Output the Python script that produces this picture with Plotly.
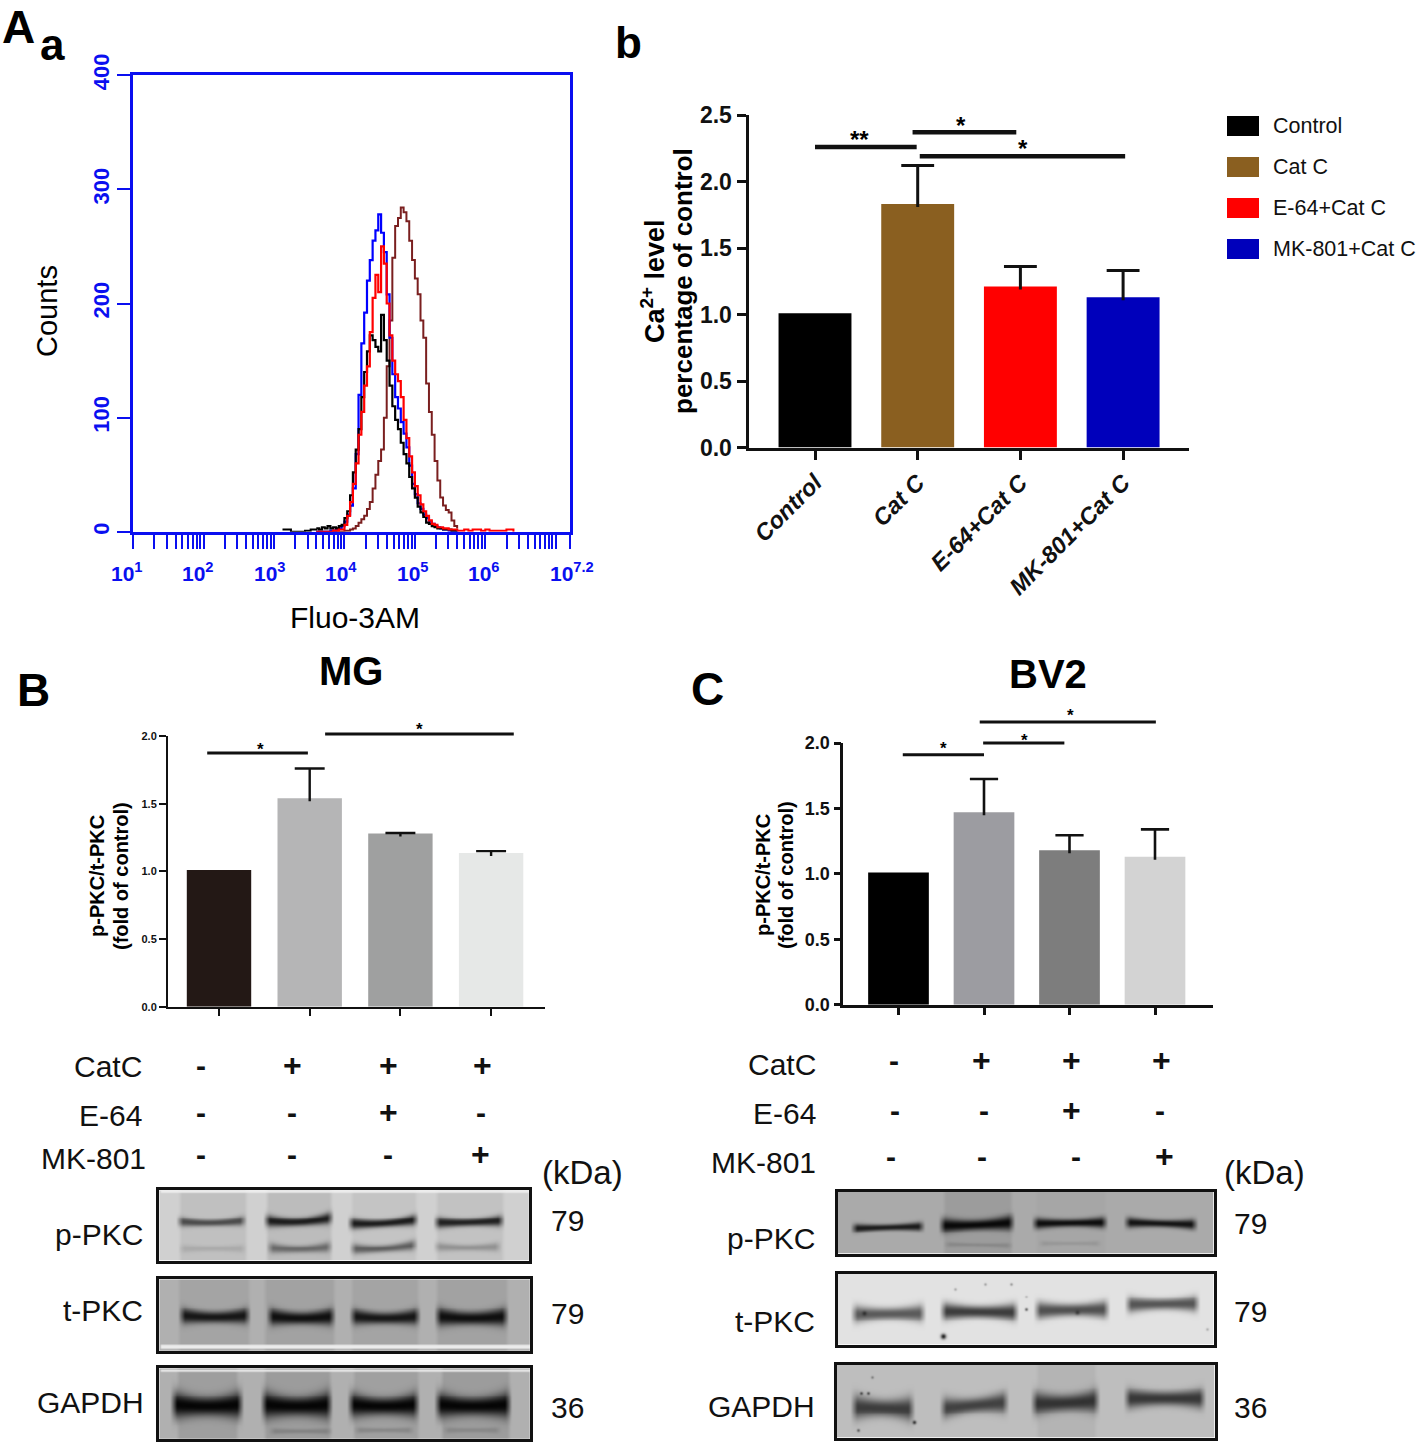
import numpy as np
import plotly.graph_objects as go

W, H = 1418, 1444
FONT = "Liberation Sans"

# ---------- data ----------
LOG_BINS = [3.60, 3.64, 3.68, 3.72, 3.76, 3.80, 3.84, 3.88, 3.92, 3.96,
            4.00, 4.04, 4.08, 4.12, 4.16, 4.20, 4.24, 4.28, 4.32, 4.36,
            4.40, 4.44, 4.48, 4.52, 4.56, 4.60, 4.64, 4.68, 4.72, 4.76,
            4.80, 4.84, 4.88, 4.92, 4.96, 5.00, 5.04, 5.08, 5.12, 5.16,
            5.20, 5.24, 5.28, 5.32, 5.36, 5.40, 5.44, 5.48, 5.52, 5.56, 5.60]
HIST_BLUE = [0, 0, 0, 0, 0, 1, 1, 2, 3, 5, 9, 15, 23, 38, 68, 120, 165, 192, 220, 238,
             255, 264, 278, 262, 245, 208, 170, 138, 118, 108, 96, 86, 74, 58, 42,
             33, 25, 20, 15, 12, 9, 7, 5, 4, 3, 2, 2, 1, 1, 1, 0]
HIST_BLACK = [3, 2, 4, 3, 5, 3, 4, 3, 5, 6, 12, 18, 32, 52, 72, 90, 118, 140, 158, 172,
              168, 162, 158, 190, 168, 150, 128, 110, 98, 90, 78, 68, 60, 48, 38,
              30, 22, 17, 13, 8, 7, 5, 4, 3, 3, 2, 2, 2, 1, 1, 1]
HIST_RED = [0, 0, 0, 0, 0, 0, 1, 1, 2, 2, 6, 14, 26, 42, 60, 85, 105, 128, 145, 175,
            205, 225, 210, 250, 235, 200, 172, 150, 138, 132, 118, 98, 82, 66, 52,
            40, 32, 24, 18, 14, 10, 7, 6, 4, 4, 3, 3, 2, 2, 2, 1]
HIST_DARKRED = [0, 0, 0, 0, 0, 0, 0, 0, 0, 0, 1, 1, 2, 3, 5, 8, 11, 14, 20, 26,
                38, 50, 62, 72, 100, 145, 185, 240, 268, 275, 284, 280, 272, 255, 238,
                222, 208, 185, 170, 130, 105, 85, 62, 45, 30, 23, 19, 17, 10, 5, 3]
TAIL_LOG = [3.12, 3.16, 3.20, 3.24, 3.40, 3.44, 3.48, 3.52, 3.56, 3.60]
TAIL_BLACK = [2, 2, 2, 0, 0, 1, 1, 2, 2, 3]
TAIL_RED_LOG = [5.60, 5.64, 5.70, 5.76, 5.82, 5.88, 5.94, 6.00, 6.06, 6.30, 6.36, 6.40]
TAIL_RED = [1, 1, 2, 1, 2, 2, 1, 2, 1, 2, 2, 0]
FLOW_DECADE_LABELS = [1, 2, 3, 4, 5, 6, 7.2]
FLOW_MINOR_MULT = [1, 2, 3, 4, 5, 6, 7, 8, 9]
FLOW_YTICKS = [0, 100, 200, 300, 400]

B_CATS = ["Control", "Cat C", "E-64+Cat C", "MK-801+Cat C"]
B_VALS = [1.01, 1.83, 1.21, 1.13]
B_ERR = [0, 0.29, 0.15, 0.20]
B_COLORS = ["#000000", "#8a5f20", "#ff0000", "#0000bb"]
B_SIG = [([0.0, 0.99], 2.26), ([0.95, 1.96], 2.37), ([1.02, 3.02], 2.19)]

MG_VALS = [1.01, 1.54, 1.28, 1.135]
MG_ERR = [0, 0.22, 0.004, 0.015]
MG_COLORS = ["#231815", "#b5b5b6", "#9fa0a0", "#e6e8e7"]
MG_SIG = [([-0.13, 0.98], 1.875), ([1.17, 3.25], 2.015)]

BV_VALS = [1.01, 1.47, 1.18, 1.13]
BV_ERR = [0, 0.255, 0.115, 0.21]
BV_COLORS = ["#000000", "#9c9ca1", "#7d7d7d", "#d3d3d3"]
BV_SIG = [([0.05, 1.0], 1.91), ([0.99, 1.94], 2.0), ([0.95, 3.01], 2.16)]

# ---------- layout helpers ----------
def dx(a, b):
    return [a / W, b / W]

def dy(top, bottom):
    return [1 - bottom / H, 1 - top / H]

fig = go.Figure()
layout = {}
annos = []
shapes = []
axis_n = [0]

def new_axes(xdom, ydom, xopt, yopt):
    axis_n[0] += 1
    n = axis_n[0]
    sx = "" if n == 1 else str(n)
    layout["xaxis" + sx] = dict(domain=xdom, anchor="y" + sx, **xopt)
    layout["yaxis" + sx] = dict(domain=ydom, anchor="x" + sx, **yopt)
    return "x" + sx, "y" + sx

def txt(x, y, s, size, color="#000", bold=False, angle=0, anchor="center", italic=False):
    annos.append(dict(x=x / W, y=1 - y / H, xref="paper", yref="paper", text=s, showarrow=False,
                      font=dict(size=size, color=color, family=FONT,
                                weight="bold" if bold else "normal",
                                style="italic" if italic else "normal"),
                      textangle=angle, xanchor=anchor, yanchor="middle",
                      borderpad=0, borderwidth=0))

# ---------- panel a: flow histogram ----------
BLUE = "#0a0ff0"
minor = []
for d in range(1, 8):
    for m in FLOW_MINOR_MULT:
        v = m * 10 ** d
        if np.log10(v) <= 7.2:
            minor.append(v)
minor.append(10 ** 7.2)
xa, ya = new_axes(dx(133.2, 569.8), dy(75.2, 531.8),
    dict(type="log", range=[1, 7.2], tickmode="array", tickvals=minor, showticklabels=False,
         ticks="outside", ticklen=14, tickcolor=BLUE, tickwidth=1.6, showline=True, linecolor=BLUE,
         linewidth=2.5, mirror=True, showgrid=False, zeroline=False),
    dict(range=[0, 400], tickmode="array", tickvals=FLOW_YTICKS, ticktext=[str(v) for v in FLOW_YTICKS],
         ticks="outside", ticklen=13, tickcolor=BLUE, tickwidth=2, showline=True, linecolor=BLUE,
         linewidth=2.5, mirror=True, showgrid=False, zeroline=False, tickangle=-90,
         tickfont=dict(size=22, color=BLUE, family=FONT, weight="bold")))
xvals = [10 ** b for b in LOG_BINS]
for vals, col, wid in [(HIST_DARKRED, "#7a1f1f", 2), (HIST_BLUE, "#0000ff", 2.2),
                       (HIST_BLACK, "#000000", 2.2), (HIST_RED, "#ff0000", 2.2)]:
    fig.add_trace(go.Scatter(x=xvals, y=vals, mode="lines", xaxis=xa, yaxis=ya, showlegend=False,
                             line=dict(color=col, width=wid, shape="hv"), hoverinfo="skip"))
for lx, ly, col in [(TAIL_LOG, TAIL_BLACK, "#000000"), (TAIL_RED_LOG, TAIL_RED, "#ff0000")]:
    fig.add_trace(go.Scatter(x=[10 ** b for b in lx], y=ly, mode="lines", xaxis=xa, yaxis=ya, showlegend=False,
                             line=dict(color=col, width=2, shape="hv"), hoverinfo="skip"))
for i, d in enumerate(FLOW_DECADE_LABELS):
    px = 127 + i * 71.4 if d != 7.2 else 572
    txt(px, 572, "<b>10<sup>%s</sup></b>" % d, 21, BLUE)
txt(47, 311, "Counts", 29, angle=-90)
txt(355, 617, "Fluo-3AM", 30)

# ---------- bar panels ----------
def bars(px_left, px_right, top, bottom, ymax, yticks, center0, spacing, vals, errs, colors, sig,
         barw, caph, lw, tfont, tick_len, ticktext, sigw, xfont=None, xangle=None):
    # axis lines are drawn outside the domain, so the domain is inset by half the line
    px_in = px_left + lw / 2
    bot_in = bottom - lw / 2
    scale = ymax / (bot_in - top)
    xr = [(px_in - center0) / spacing, (px_right - center0) / spacing]
    xopt = dict(range=xr, tickmode="array", tickvals=[0, 1, 2, 3], ticks="outside",
                ticklen=tick_len, tickwidth=lw, tickcolor="#111", showline=True, linecolor="#111",
                linewidth=lw, showgrid=False, zeroline=False)
    if ticktext:
        xopt["ticktext"] = ticktext
    else:
        xopt["showticklabels"] = False
    if xfont:
        xopt["tickfont"] = xfont
    if xangle is not None:
        xopt["tickangle"] = xangle
    ax, ay = new_axes(dx(px_in, px_right), dy(top, bot_in), xopt,
        dict(range=[0, ymax], tickmode="array", tickvals=yticks, ticktext=["%.1f" % t for t in yticks],
             ticks="outside", ticklen=tick_len, tickwidth=lw, tickcolor="#111", showline=True,
             linecolor="#111", linewidth=lw, showgrid=False, zeroline=False, tickfont=tfont))
    fig.add_trace(go.Bar(x=[0, 1, 2, 3], y=vals, width=barw, marker=dict(color=colors, line=dict(width=0)),
                         xaxis=ax, yaxis=ay, showlegend=False, hoverinfo="skip"))
    # an overlay subplot with the same scale and head-room for the brackets
    pad = 60
    ox, oy = new_axes(dx(px_in, px_right), dy(top - pad, bot_in),
                      dict(range=xr, visible=False),
                      dict(range=[0, ymax + pad * scale], visible=False))
    for i, (v, e) in enumerate(zip(vals, errs)):
        if e <= 0:
            continue
        fig.add_trace(go.Scatter(x=[i, i], y=[v - 3 * scale, v + e], mode="lines", xaxis=ox, yaxis=oy,
                                 showlegend=False, hoverinfo="skip", line=dict(color="#111", width=lw)))
        fig.add_trace(go.Scatter(x=[i - caph, i + caph], y=[v + e, v + e], mode="lines", xaxis=ox, yaxis=oy,
                                 showlegend=False, hoverinfo="skip", line=dict(color="#111", width=lw)))
    for xs, yv in sig:
        fig.add_trace(go.Scatter(x=xs, y=[yv, yv], mode="lines", xaxis=ox, yaxis=oy, showlegend=False,
                                 hoverinfo="skip", line=dict(color="#111", width=sigw)))

bars(747, 1189, 115, 449, 2.5, [0, 0.5, 1, 1.5, 2, 2.5], 815, 102.7, B_VALS, B_ERR, B_COLORS, B_SIG,
     0.71, 0.16, 3, dict(size=23, color="#111", family=FONT, weight="bold"), 9, B_CATS, 4.5,
     xfont=dict(size=23.5, color="#111", family=FONT, weight="bold", style="italic"), xangle=-45)
bars(167, 545, 736, 1008, 2.0, [0, 0.5, 1, 1.5, 2], 219, 90.7, MG_VALS, MG_ERR, MG_COLORS, MG_SIG,
     0.71, 0.165, 2.4, dict(size=11, color="#111", family=FONT, weight="bold"), 7, None, 3)
bars(842, 1213, 743, 1006, 2.0, [0, 0.5, 1, 1.5, 2], 898.5, 85.5, BV_VALS, BV_ERR, BV_COLORS, BV_SIG,
     0.71, 0.165, 2.6, dict(size=18, color="#111", family=FONT, weight="bold"), 7, None, 3)

txt(653, 281, "Ca<sup>2+</sup> level", 27, bold=True, angle=-90)
txt(683, 281, "percentage of control", 26, bold=True, angle=-90)
for x, y, s, z in [(860, 140, "**", 24), (961, 126, "*", 24), (1023, 149, "*", 24),
                   (260, 749, "*", 17), (419, 729, "*", 17),
                   (943, 748, "*", 17), (1024, 740, "*", 17), (1070, 716, "*", 17)]:
    txt(x, y, s, z, bold=True)

# legend of panel b
LEG_Y = [126, 167, 208, 249]
for yc, name, col in zip(LEG_Y, B_CATS, B_COLORS):
    shapes.append(dict(type="rect", xref="paper", yref="paper", x0=1227 / W, x1=1259 / W,
                       y0=1 - (yc + 10) / H, y1=1 - (yc - 10) / H, fillcolor=col, line=dict(width=0)))
    txt(1273, yc, name, 21.5, anchor="left", color="#111")

txt(97, 876, "p-PKC/t-PKC", 20, bold=True, angle=-90)
txt(121, 876, "(fold of control)", 20, bold=True, angle=-90)
txt(763, 875, "p-PKC/t-PKC", 20, bold=True, angle=-90)
txt(786, 875, "(fold of control)", 20, bold=True, angle=-90)
txt(351, 671, "MG", 40, bold=True)
txt(1048, 674, "BV2", 40, bold=True)

# panel letters
for x, y, s, z in [(18, 27, "A", 46), (52, 44, "a", 44), (628, 43, "b", 44), (33, 690, "B", 46), (707, 689, "C", 46)]:
    txt(x, y, s, z, bold=True)

# ---------- treatment rows ----------
ROW_LABELS = ["CatC", "E-64", "MK-801"]
MG_SIGNS = [["-", "+", "+", "+"], ["-", "-", "+", "-"], ["-", "-", "-", "+"]]
BV_SIGNS = [["-", "+", "+", "+"], ["-", "-", "+", "-"], ["-", "-", "-", "+"]]
for lab, yl in zip(ROW_LABELS, [1066, 1115, 1158]):
    txt(146 if lab == "MK-801" else 142, yl, lab, 30, anchor="right", color="#111")
for yl, r, cols in zip([1065, 1112, 1154], MG_SIGNS, [[201, 292, 388, 482], [201, 292, 388, 481], [201, 292, 388, 481]]):
    for xc, s in zip(cols, r):
        txt(xc, yl, "<b>%s</b>" % s, 32 if s == "+" else 30, color="#111")
for lab, yl in zip(ROW_LABELS, [1064, 1113, 1162]):
    txt(816, yl, lab, 30, anchor="right", color="#111")
for yl, r, cols in zip([1060, 1110, 1156], BV_SIGNS, [[894, 981, 1071, 1161], [895, 984, 1071, 1160], [891, 982, 1076, 1164]]):
    for xc, s in zip(cols, r):
        txt(xc, yl, "<b>%s</b>" % s, 32 if s == "+" else 30, color="#111")
txt(582, 1172, "(kDa)", 33, color="#111")
txt(1264, 1172, "(kDa)", 33, color="#111")
for x, y, s in [(143, 1234, "p-PKC"), (143, 1310, "t-PKC"), (144, 1402, "GAPDH"),
                (815, 1238, "p-PKC"), (815, 1321, "t-PKC"), (815, 1406, "GAPDH")]:
    txt(x, y, s, 30, anchor="right", color="#111")
for x, y, s in [(567, 1220, "79"), (567, 1313, "79"), (567, 1407, "36"),
                (1250, 1223, "79"), (1250, 1311, "79"), (1250, 1407, "36")]:
    txt(x, y, s, 30, color="#111")

# ---------- blots ----------
def blot(x0, x1, y0, y1, bg, lanes, bands, strips=(), specks=(), lw=2.5):
    xs = np.arange(x0, x1 + 1, 1.0)
    ys = np.arange(y0, y1 + 1, 1.0)
    X, Y = np.meshgrid(xs, ys)
    z = np.full(X.shape, float(bg))
    for a, b, g in lanes:
        m = np.clip((X - a) / 4, 0, 1) * np.clip((b - X) / 4, 0, 1)
        z = z * (1 - m) + g * m
    for a, b, yl, yr, t, dark, curve in bands:
        u = np.clip((X - a) / (b - a), 0, 1)
        m = np.clip((X - a + 3) / 7, 0, 1) * np.clip((b - X + 3) / 7, 0, 1)
        yc = yl + (yr - yl) * u + curve * (0.25 - (u - 0.5) ** 2) * 4
        th = t * (0.85 + 0.45 * ((u - 0.5) * 2) ** 2)
        p = np.exp(-np.abs((Y - yc) / th) ** 2.2) * m
        z = z * (1 - p) + dark * p
    for a, b, ya_, yb_, g in strips:
        sel = (X >= a) & (X <= b) & (Y >= ya_) & (Y <= yb_)
        z[sel] = g
    for sx, sy, r, g in specks:
        p = np.exp(-((X - sx) ** 2 + (Y - sy) ** 2) / r ** 2)
        z = z * (1 - p) + g * p
    inset = lw / 2
    ax, ay = new_axes(dx(x0 + inset, x1 - inset), dy(y0 + inset, y1 - inset),
        dict(range=[x0, x1], showticklabels=False, ticks="", showgrid=False, zeroline=False,
             showline=True, linecolor="#111", linewidth=lw, mirror=True),
        dict(range=[y1, y0], showticklabels=False, ticks="", showgrid=False, zeroline=False,
             showline=True, linecolor="#111", linewidth=lw, mirror=True))
    fig.add_trace(go.Heatmap(z=np.round(z).astype(int).tolist(), x0=x0, dx=1, y0=y0, dy=1, zmin=0, zmax=255,
                             colorscale=[[0, "#000"], [1, "#fff"]], showscale=False, xaxis=ax, yaxis=ay,
                             zsmooth="best", hoverinfo="skip"))

# MG
blot(158, 530, 1189, 1262, 208,
     [(177, 247, 192), (264, 333, 188), (350, 418, 196), (435, 506, 194)],
     [(178, 243, 1221, 1220, 4, 75, 2), (265, 331, 1220, 1217, 5, 28, 3), (350, 416, 1223, 1219, 4.6, 28, 2),
      (436, 503, 1222, 1220, 4.6, 32, 1),
      (180, 243, 1249, 1249, 3.5, 170, 0), (268, 330, 1248, 1247, 4.5, 105, 2), (352, 415, 1249, 1245, 4.5, 95, 2),
      (436, 500, 1247, 1247, 4, 145, 1)],
     strips=[(160, 530, 1190, 1191, 240)])
blot(158, 531, 1278, 1352, 176,
     [(176, 250, 164), (262, 336, 162), (350, 420, 164), (435, 510, 162)],
     [(180, 247, 1315, 1315, 6.5, 22, 2), (268, 333, 1316, 1316, 7, 15, 2), (352, 418, 1316, 1316, 6.5, 22, 2),
      (437, 507, 1316, 1316, 7.5, 15, 2)],
     strips=[(160, 531, 1346, 1349, 235)])
blot(158, 531, 1367, 1440, 176,
     [(175, 238, 158), (262, 332, 156), (352, 420, 160), (440, 512, 156)],
     [(172, 240, 1404, 1404, 11, 5, 2), (262, 330, 1404, 1404, 11, 5, 2), (350, 417, 1404, 1404, 10, 5, 2),
      (437, 510, 1404, 1404, 10.5, 5, 2),
      (270, 330, 1432, 1432, 2.5, 130, 0), (356, 412, 1431, 1431, 2.5, 135, 0), (445, 500, 1431, 1431, 2.5, 135, 0)],
     strips=[(160, 531, 1369, 1370, 235)])
# BV2
blot(836, 1215, 1190, 1255, 170,
     [(941, 1013, 156), (1034, 1108, 166)],
     [(852, 921, 1228, 1226, 3.6, 25, 0), (940, 1012, 1225, 1222, 6, 8, 1), (1034, 1106, 1223, 1222, 4.4, 12, 0),
      (1127, 1196, 1222, 1224, 4.2, 18, 0),
      (945, 1010, 1245, 1246, 2, 135, 0), (1040, 1100, 1244, 1244, 2, 150, 0)], lw=3)
blot(836, 1215, 1272, 1346, 226,
     [(1000, 1012, 226)],
     [(852, 922, 1314, 1313, 7, 90, 0), (941, 1016, 1311, 1312, 7, 60, 0), (1036, 1108, 1310, 1309, 7, 80, 0),
      (1128, 1198, 1304, 1303, 6.5, 85, 0)],
     specks=[(942, 1337, 2.5, 10), (1026, 1309, 1.2, 30), (1011, 1283, 1, 90), (985, 1283, 1, 110), (954, 1288, 1, 120),
             (863, 1313, 2, 40), (1077, 1312, 2, 50), (1208, 1330, 1, 130), (1026, 1296, 1, 120)], lw=3)
blot(835, 1216, 1363, 1439, 190,
     [(1035, 1098, 180)],
     [(852, 911, 1407, 1409, 10, 60, 0), (941, 1006, 1408, 1402, 8.5, 65, 0), (1033, 1098, 1403, 1400, 9.5, 50, 1),
      (1127, 1204, 1398, 1398, 8, 55, 0)],
     specks=[(860, 1393, 1.2, 20), (867, 1393, 1.2, 20), (913, 1423, 1.6, 15), (857, 1431, 1.2, 40), (871, 1376, 1, 70)], lw=3)

layout.update(
    width=W, height=H, margin=dict(l=0, r=0, t=0, b=0, autoexpand=False), paper_bgcolor="#fff",
    plot_bgcolor="rgba(0,0,0,0)", showlegend=False, annotations=annos, shapes=shapes,
    font=dict(family=FONT),
)
fig.update_layout(**layout)
fig.write_html("out.html", config=dict(displayModeBar=False), post_script="document.body.style.margin='0';")
